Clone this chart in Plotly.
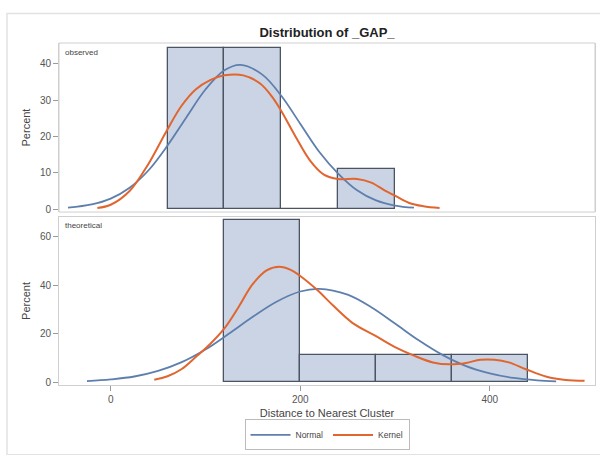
import plotly.graph_objects as go

# ---------------- data ----------------
obs_edges = [60, 120, 180, 240, 300]
obs_pct = [44.44, 44.44, 0, 11.11]

theo_edges = [120, 200, 280, 360, 440]
theo_pct = [66.67, 11.11, 11.11, 11.11]

# observed panel curves
obs_normal_x = [-45, -20, 0, 20, 40, 60, 80, 100, 120, 137, 160, 180, 200, 220, 240, 260, 280, 300, 320]
obs_normal_y = [0.4, 1.3, 2.9, 5.9, 10.7, 17.5, 25.3, 32.9, 38.2, 39.7, 37.0, 31.2, 23.5, 15.8, 9.8, 5.2, 2.4, 1.0, 0.4]
obs_kernel_x = [-14, 0, 20, 40, 59, 75, 90, 105, 120, 140, 158, 170, 180, 195, 210, 225, 240, 260, 275, 290, 300, 315, 330, 347]
obs_kernel_y = [0.3, 1.2, 5.0, 12.5, 21.5, 28.5, 33.0, 35.5, 36.8, 36.8, 34.5, 31.0, 27.0, 20.0, 13.5, 9.5, 8.3, 8.3, 7.3, 5.0, 3.7, 1.7, 0.8, 0.3]

# theoretical panel curves
theo_normal_x = [-25, 0, 25, 50, 75, 100, 125, 150, 175, 200, 220, 250, 275, 300, 325, 350, 375, 400, 425, 450, 470]
theo_normal_y = [0.5, 1.2, 2.4, 4.7, 8.3, 13.5, 20.1, 27.0, 33.2, 37.4, 38.5, 36.1, 30.9, 24.2, 17.3, 11.3, 6.7, 3.7, 1.8, 0.8, 0.4]
theo_kernel_x = [46, 60, 75, 90, 105, 120, 135, 150, 165, 178, 190, 200, 218, 235, 255, 280, 300, 320, 340, 358, 375, 390, 405, 420, 438, 460, 480, 500]
theo_kernel_y = [1.1, 2.5, 5.5, 10.5, 15.8, 22.2, 31.0, 40.5, 46.2, 47.6, 46.3, 43.8, 38.0, 31.5, 24.5, 19.0, 14.5, 11.0, 8.2, 7.4, 8.0, 9.3, 9.3, 8.2, 5.4, 2.3, 1.0, 0.6]

x_ticks = [0, 200, 400]
top_y_ticks = [0, 10, 20, 30, 40]
bot_y_ticks = [0, 20, 40, 60]

# ---------------- styles ----------------
BAR_FILL = "#CAD4E4"
BAR_LINE = "#4A5462"
NORMAL_C = "#5E7FAE"
KERNEL_C = "#E1652F"
FRAME = "#CFCFCF"
FONT = "Liberation Sans, Arial, sans-serif"


def centers(edges):
    return [(a + b) / 2 for a, b in zip(edges[:-1], edges[1:])]


def widths(edges):
    return [b - a for a, b in zip(edges[:-1], edges[1:])]


fig = go.Figure()

fig.add_trace(go.Bar(x=centers(obs_edges), y=obs_pct, width=widths(obs_edges),
                     marker=dict(color=BAR_FILL, line=dict(color=BAR_LINE, width=1.3)),
                     showlegend=False, xaxis="x", yaxis="y"))
fig.add_trace(go.Bar(x=centers(theo_edges), y=theo_pct, width=widths(theo_edges),
                     marker=dict(color=BAR_FILL, line=dict(color=BAR_LINE, width=1.3)),
                     showlegend=False, xaxis="x", yaxis="y2"))

fig.add_trace(go.Scatter(x=obs_normal_x, y=obs_normal_y, mode="lines",
                         line=dict(color=NORMAL_C, width=1.8, shape="spline", smoothing=1.0),
                         name="Normal", showlegend=True, legendrank=1, xaxis="x", yaxis="y"))
fig.add_trace(go.Scatter(x=obs_kernel_x, y=obs_kernel_y, mode="lines",
                         line=dict(color=KERNEL_C, width=2.0, shape="spline", smoothing=1.0),
                         name="Kernel", showlegend=True, legendrank=2, xaxis="x", yaxis="y"))
fig.add_trace(go.Scatter(x=theo_normal_x, y=theo_normal_y, mode="lines",
                         line=dict(color=NORMAL_C, width=1.8, shape="spline", smoothing=1.0),
                         name="Normal", showlegend=False, xaxis="x", yaxis="y2"))
fig.add_trace(go.Scatter(x=theo_kernel_x, y=theo_kernel_y, mode="lines",
                         line=dict(color=KERNEL_C, width=2.0, shape="spline", smoothing=1.0),
                         name="Kernel", showlegend=False, xaxis="x", yaxis="y2"))

tickfont = dict(family=FONT, size=10, color="#555555")
titlefont = dict(family=FONT, size=11, color="#444444")

common_y = dict(showgrid=False, zeroline=False, showline=True, linecolor=FRAME, mirror=True,
                ticks="outside", ticklen=5, tickcolor="#9A9A9A", tickfont=tickfont,
                title=dict(text="Percent", font=titlefont, standoff=7))

fig.update_layout(
    width=600, height=455,
    margin=dict(l=59, r=5, t=43, b=64),
    paper_bgcolor="white", plot_bgcolor="white",
    bargap=0, barmode="overlay",
    font=dict(family=FONT),
    title=dict(text="<b>Distribution of _GAP_</b>", x=0.545, xanchor="center",
               y=1 - 32 / 455, yanchor="middle",
               font=dict(family=FONT, size=13, color="#222222")),
    xaxis=dict(domain=[0, 1], range=[-54.5, 511], anchor="y2", showgrid=False, zeroline=False,
               showline=True, linecolor=FRAME, mirror=True, tickvals=x_ticks,
               ticks="outside", ticklen=5, tickcolor="#9A9A9A", tickfont=tickfont,
               title=dict(text="Distance to Nearest Cluster", font=titlefont, standoff=5)),
    xaxis2=dict(overlaying="x", matches="x", visible=False),
    yaxis=dict(domain=[0.5057, 1], range=[-0.8, 45.7], tickvals=top_y_ticks, anchor="x", **common_y),
    yaxis2=dict(domain=[0, 0.4914], range=[-1.1, 68.1], tickvals=bot_y_ticks, anchor="x", **common_y),
    legend=dict(orientation="h", x=0.5, xanchor="center", y=-0.146, yanchor="middle",
                bordercolor="#BBBBBB", borderwidth=1, font=dict(family=FONT, size=8.5, color="#444444"),
                itemwidth=40, tracegroupgap=0),
)

# top panel frame
fig.add_shape(type="rect", xref="x domain", yref="y domain", x0=0, x1=1, y0=0, y1=1,
              line=dict(color=FRAME, width=1), layer="above")

fig.add_annotation(text="observed", xref="x domain", yref="y domain", x=0.008, y=0.985,
                   xanchor="left", yanchor="top", showarrow=False,
                   font=dict(family=FONT, size=8, color="#444444"))
fig.add_annotation(text="theoretical", xref="x domain", yref="y2 domain", x=0.008, y=0.985,
                   xanchor="left", yanchor="top", showarrow=False,
                   font=dict(family=FONT, size=8, color="#444444"))

# outer graph frame
fig.add_shape(type="rect", xref="paper", yref="paper",
              x0=(7 - 59) / 536, x1=(606 - 59) / 536,
              y0=(391 - 462) / 348, y1=(391 - 13) / 348,
              line=dict(color="#E2E2E2", width=1.5), layer="below")

fig.write_html("out.html")
